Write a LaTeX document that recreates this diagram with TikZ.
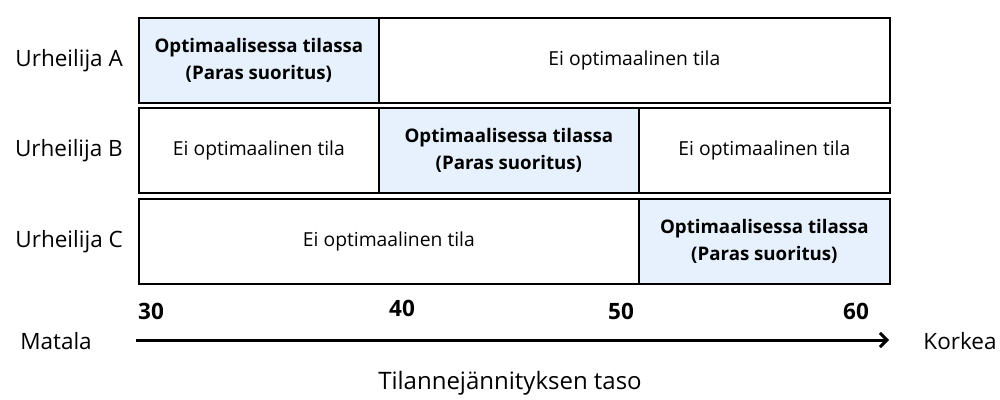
\documentclass[tikz,border=0pt]{standalone}
\usepackage{fontspec}
\setmainfont{Open Sans}
\usetikzlibrary{arrows.meta,positioning}
\definecolor{optblue}{HTML}{E6F1FD}
\begin{document}
\begin{tikzpicture}[x=1pt,y=-1pt,
    every node/.style={align=center, font=\fontsize{19.3}{22}\selectfont},
    cell/.style={draw, line width=1.8pt, minimum height=85pt, inner sep=0pt, anchor=north west},
    opt/.style={cell, fill=optblue, font=\fontsize{18.7}{27}\selectfont\bfseries},
    athlete/.style={inner sep=0pt, font=\fontsize{22.5}{25}\selectfont},
    tick/.style={font=\fontsize{22.5}{25}\selectfont\bfseries}]
\useasboundingbox (0,0) rectangle (1000,399);
% Urheilija A
\node[opt, minimum width=240pt] (a1) at (138,17) {Optimaalisessa tilassa\\(Paras suoritus)};
\node[cell, minimum width=511pt] (a2) at (378,17) {Ei optimaalinen tila};
% Urheilija B
\node[cell, minimum width=240pt] (b1) at (138,107) {Ei optimaalinen tila};
\node[opt, minimum width=260pt] (b2) at (378,107) {Optimaalisessa tilassa\\(Paras suoritus)};
\node[cell, minimum width=251pt] (b3) at (638,107) {Ei optimaalinen tila};
% Urheilija C
\node[cell, minimum width=500pt] (c1) at (138,198) {Ei optimaalinen tila};
\node[opt, minimum width=251pt] (c2) at (638,198) {Optimaalisessa tilassa\\(Paras suoritus)};
\node[athlete, left=15pt of a1] (la) {Urheilija A};
\node[athlete, left=15pt of b1] (lb) {Urheilija B};
\node[athlete, left=15pt of c1] (lc) {Urheilija C};
% asteikko
\node[tick] (t30) at (151,311) {30};
\node[tick] (t40) at (402,308) {40};
\node[tick] (t50) at (621,311) {50};
\node[tick] (t60) at (856,311) {60};
\coordinate (s) at (136,340);
\coordinate (e) at (889,340);
\draw[line width=3pt, -{Straight Barb[length=7pt,width=14pt]}] (s) -- (e);
\node[athlete] (low) at (56,341) {Matala};
\node[athlete] (high) at (960,341) {Korkea};
\node[athlete, font=\fontsize{24}{27}\selectfont] (title) at (510,383) {Tilannejännityksen taso};
\end{tikzpicture}
\end{document}
